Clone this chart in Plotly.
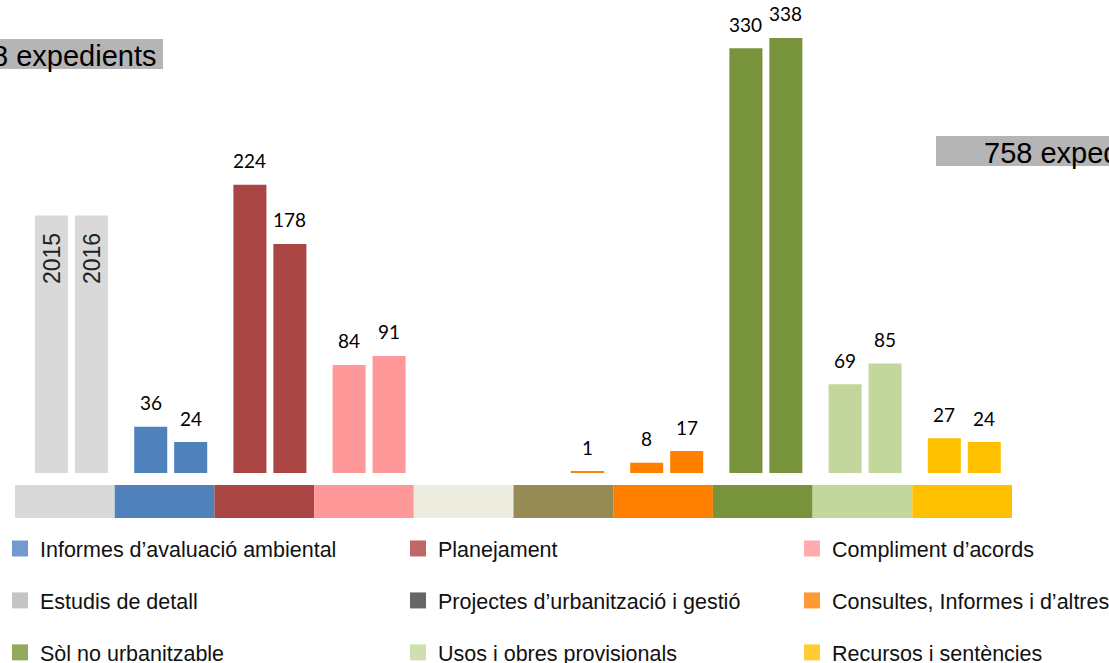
import plotly.graph_objects as go

W, H = 1109, 663

# ---- data -------------------------------------------------------------
slots = [0, 1, 2, 3, 4, 5, 6, 7, 8, 9]
vals_2015 = [None, 36, 224, 84, None, None, 8, 330, 69, 27]
vals_2016 = [None, 24, 178, 91, None, 1, 17, 338, 85, 24]
bar_colors = ['#d9d9d9', '#4f81bd', '#a94543', '#ff9999', '#eeeee4',
              '#ff7f00', '#ff7f00', '#77933c', '#c3d69b', '#ffc000']
years = ['2015', '2016']
year_bar_height = 200

strip_colors = ['#d9d9d9', '#4f81bd', '#a94543', '#ff9999', '#ededdf',
                '#968b54', '#ff8000', '#77933c', '#c3d69b', '#ffc000']
strip_values = [1] * 10

legend_names = [
    ['Informes d\u2019avaluació ambiental', 'Estudis de detall', 'Sòl no urbanitzable'],
    ['Planejament', 'Projectes d\u2019urbanització i gestió', 'Usos i obres provisionals'],
    ['Compliment d\u2019acords', 'Consultes, Informes i d\u2019altres', 'Recursos i sentències'],
]
legend_colors = [
    ['#729acd', '#c4c4c4', '#92a95f'],
    ['#c0676a', '#666666', '#cfdfb0'],
    ['#ffabab', '#ff9933', '#ffcc33'],
]
title_left = '8 expedients'
title_right = '758 expedients'

# ---- geometry helpers ------------------------------------------------------
def px(x):
    return x / W

def py(y):
    return 1 - y / H

bar_w = 0.333
offsets = [-0.368, 0.035]

fig = go.Figure()

for i, vals in enumerate([vals_2015, vals_2016]):
    fig.add_trace(go.Bar(
        x=slots, y=vals, width=bar_w, offset=offsets[i],
        marker=dict(color=bar_colors, line=dict(width=0)),
        showlegend=False, hoverinfo='skip',
    ))
    # grey year placeholders
    fig.add_trace(go.Bar(
        x=[slots[0]], y=[year_bar_height], width=bar_w, offset=offsets[i],
        marker=dict(color=bar_colors[0], line=dict(width=0)),
        showlegend=False, hoverinfo='skip',
    ))

# colour strip under the bars
fig.add_trace(go.Bar(
    x=slots, y=strip_values, width=1, xaxis='x2', yaxis='y2',
    marker=dict(color=strip_colors, line=dict(width=0)),
    showlegend=False, hoverinfo='skip',
))

# legend-only entries, three columns
for c in range(3):
    lg = 'legend' if c == 0 else 'legend%d' % (c + 1)
    for r in range(3):
        fig.add_trace(go.Scatter(
            x=[None], y=[None], mode='markers', name=legend_names[c][r],
            marker=dict(symbol='square', size=16, color=legend_colors[c][r]),
            legend=lg, legendgroup='g%d%d' % (c, r),
        ))

annotations = []
for i, vals in enumerate([vals_2015, vals_2016]):
    for k, v in zip(slots, vals):
        if v is None:
            continue
        annotations.append(dict(
            x=k + offsets[i] + bar_w / 2, y=v, xref='x', yref='y',
            text=str(v), showarrow=False, yanchor='middle', yshift=24,
            font=dict(family='Lato', size=19, color='#000000'),
        ))
    annotations.append(dict(
        x=slots[0] + offsets[i] + bar_w / 2, y=year_bar_height, xref='x', yref='y',
        text=years[i], showarrow=False, textangle=-90, yanchor='middle', yshift=-43,
        font=dict(family='Liberation Sans', size=23, color='#222222'),
    ))

annotations.append(dict(
    x=px(158), y=py(56), xref='paper', yref='paper', text=title_left,
    showarrow=False, xanchor='right', yanchor='middle',
    font=dict(family='Liberation Sans', size=29, color='#000000'),
))
annotations.append(dict(
    x=px(982), y=py(153), xref='paper', yref='paper', text=title_right,
    showarrow=False, xanchor='left', yanchor='middle',
    font=dict(family='Liberation Sans', size=29, color='#000000'),
))

shapes = [
    dict(type='rect', xref='paper', yref='paper', x0=px(-5), x1=px(163),
         y0=py(69), y1=py(39), fillcolor='#b5b5b5', line=dict(width=0), layer='below'),
    dict(type='rect', xref='paper', yref='paper', x0=px(936), x1=px(1120),
         y0=py(166), y1=py(136), fillcolor='#b5b5b5', line=dict(width=0), layer='below'),
]

legend_style = dict(
    orientation='v', xanchor='left', yanchor='top', y=py(528),
    bgcolor='rgba(0,0,0,0)', borderwidth=0, tracegroupgap=21,
    font=dict(family='Liberation Sans', size=21.5, color='#111111'),
    itemclick=False, itemdoubleclick=False,
)

fig.update_layout(
    width=W, height=H,
    margin=dict(l=0, r=0, t=0, b=0, autoexpand=False),
    paper_bgcolor='white', plot_bgcolor='white',
    barmode='overlay',
    xaxis=dict(range=[-0.7208, 10.4587], visible=False, fixedrange=True),
    yaxis=dict(range=[0, 367.5], domain=[py(473), 1], visible=False, fixedrange=True),
    xaxis2=dict(range=[-0.6505, 10.4729], visible=False, anchor='y2', fixedrange=True),
    yaxis2=dict(range=[0, 1], domain=[py(518), py(485)], visible=False,
                anchor='x2', fixedrange=True),
    annotations=annotations,
    shapes=shapes,
    legend=dict(x=px(0), **legend_style),
    legend2=dict(x=px(398), **legend_style),
    legend3=dict(x=px(792), **legend_style),
    hovermode=False,
)

fig.write_html(
    "out.html",
    config={'displayModeBar': False},
    post_script="document.body.style.margin='0';document.body.style.overflow='hidden';",
)
